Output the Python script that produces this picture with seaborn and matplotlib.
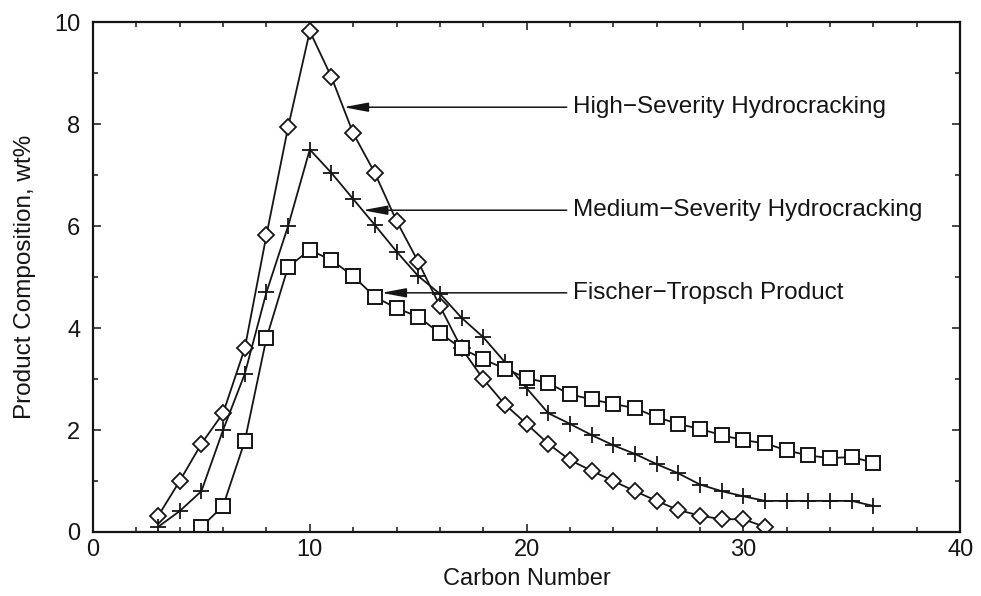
import numpy as np
import pandas as pd
import matplotlib
matplotlib.use("Agg")
import matplotlib.pyplot as plt
import seaborn as sns

# Data
high_x = list(range(3, 32))
high_y = [0.31, 1.0, 1.73, 2.33, 3.6, 5.82, 7.94, 9.82, 8.92, 7.82, 7.04, 6.1, 5.3,
          4.43, 3.6, 3.0, 2.5, 2.12, 1.73, 1.41, 1.2, 1.0, 0.8, 0.61, 0.43, 0.32,
          0.25, 0.25, 0.1]
med_x = list(range(3, 37))
med_y = [0.1, 0.41, 0.8, 2.0, 3.1, 4.7, 6.0, 7.5, 7.04, 6.53, 6.02, 5.5, 5.02, 4.67,
         4.2, 3.82, 3.33, 2.82, 2.33, 2.12, 1.9, 1.7, 1.53, 1.33, 1.15, 0.93, 0.8,
         0.7, 0.61, 0.61, 0.61, 0.61, 0.61, 0.51]
ft_x = list(range(5, 37))
ft_y = [0.1, 0.51, 1.78, 3.8, 5.2, 5.53, 5.33, 5.02, 4.61, 4.39, 4.22, 3.9, 3.6,
        3.39, 3.2, 3.02, 2.92, 2.7, 2.6, 2.51, 2.43, 2.25, 2.12, 2.02, 1.9, 1.8,
        1.74, 1.6, 1.5, 1.45, 1.47, 1.36]

labels = ["High\u2212Severity Hydrocracking", "Medium\u2212Severity Hydrocracking",
          "Fischer\u2212Tropsch Product"]
arrow_tips = [(11.55, 8.33), (12.44, 6.31), (13.3, 4.69)]
text_x = 22.15
line_start_x = 21.85

x_ticks_major = [0, 10, 20, 30, 40]
y_ticks_major = [0, 2, 4, 6, 8, 10]

sns.set_style("ticks")
plt.rcParams['font.family'] = ['Liberation Sans', 'DejaVu Sans']

fig = plt.figure(figsize=(9.81, 5.96), dpi=100)
ax = fig.add_axes([0.0948, 0.1074, 0.884, 0.8556])

col = "#151515"
df_h = pd.DataFrame({"x": high_x, "y": high_y})
df_m = pd.DataFrame({"x": med_x, "y": med_y})
df_f = pd.DataFrame({"x": ft_x, "y": ft_y})

sns.lineplot(data=df_h, x="x", y="y", ax=ax, color=col, lw=1.3, marker="D",
             markersize=8, markerfacecolor="white", markeredgecolor=col,
             markeredgewidth=1.3)
sns.lineplot(data=df_m, x="x", y="y", ax=ax, color=col, lw=1.3, marker="+",
             markersize=11, markeredgecolor=col, markeredgewidth=1.3)
sns.lineplot(data=df_f, x="x", y="y", ax=ax, color=col, lw=1.3, marker="s",
             markersize=9.5, markerfacecolor="white", markeredgecolor=col,
             markeredgewidth=1.4)

for lab, (tx, ty) in zip(labels, arrow_tips):
    ax.annotate("", xy=(tx, ty), xytext=(line_start_x, ty),
                arrowprops=dict(arrowstyle="-|>,head_length=1.5,head_width=0.28",
                                color=col, lw=1.1, shrinkA=0, shrinkB=0))
    ax.text(text_x, ty, lab, ha="left", va="center", fontsize=17.5, color=col)

ax.set_xlim(0, 40)
ax.set_ylim(0, 10)
ax.set_xticks(x_ticks_major)
ax.set_yticks(y_ticks_major)
ax.set_xticks(np.arange(0, 41, 2), minor=True)
ax.set_yticks(np.arange(0, 11, 1), minor=True)
ax.tick_params(which="both", direction="in", top=True, right=True, color=col,
               width=1.1)
ax.tick_params(which="major", length=6, labelsize=17, labelcolor=col)
ax.tick_params(axis="x", which="major", pad=5)
ax.tick_params(axis="y", which="major", pad=9)
ax.tick_params(which="minor", length=3.5)
for s in ax.spines.values():
    s.set_linewidth(1.6)
    s.set_color(col)

ax.set_xlabel("Carbon Number", fontsize=17, color=col)
ax.set_ylabel("Product Composition, wt%", fontsize=17.5, color=col)
ax.xaxis.set_label_coords(0.5, -0.07)
ax.yaxis.set_label_coords(-0.066, 0.5)

fig.savefig("out.png", dpi=100)
